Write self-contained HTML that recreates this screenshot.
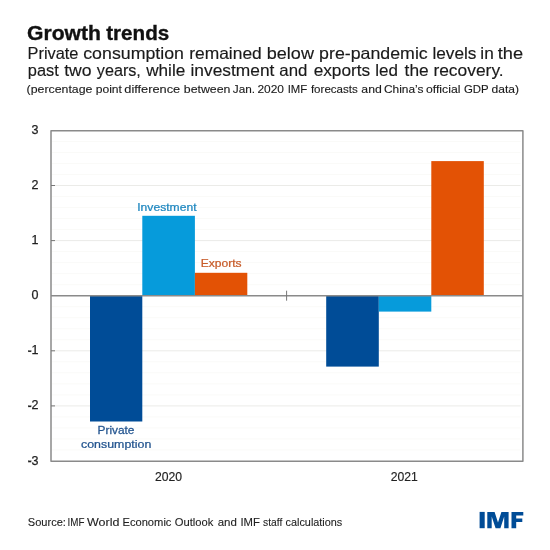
<!DOCTYPE html>
<html><head><meta charset="utf-8">
<style>
html,body{margin:0;padding:0;background:#fff;width:550px;height:550px;overflow:hidden}
svg{display:block;will-change:transform}
text{font-family:"Liberation Sans",sans-serif}
</style></head>
<body>
<svg width="550" height="550" viewBox="0 0 550 550">
<rect x="0" y="0" width="550" height="550" fill="#fff"/>
<g font-weight="bold" fill="#111" stroke="#111" stroke-width="0.35"><text transform="translate(27.04 39.6) scale(1.0263 1)" font-size="20.6">Growth</text><text transform="translate(106.20 39.6) scale(1.0029 1)" font-size="20.6">trends</text></g>
<g fill="#1a1a1a" stroke="#1a1a1a" stroke-width="0.15">
<text transform="translate(27.52 58.6) scale(1.0042 1)" font-size="16.3">Private</text><text transform="translate(83.24 58.6) scale(1.0902 1)" font-size="16.3">consumption</text><text transform="translate(189.21 58.6) scale(1.0679 1)" font-size="16.3">remained</text><text transform="translate(266.77 58.6) scale(1.1085 1)" font-size="16.3">below</text><text transform="translate(319.09 58.6) scale(1.0906 1)" font-size="16.3">pre-pandemic</text><text transform="translate(432.42 58.6) scale(1.0562 1)" font-size="16.3">levels</text><text transform="translate(480.32 58.6) scale(1.0602 1)" font-size="16.3">in</text><text transform="translate(497.70 58.6) scale(1.1183 1)" font-size="16.3">the</text>
<text transform="translate(27.78 76.1) scale(1.0052 1)" font-size="16.3">past</text><text transform="translate(64.20 76.1) scale(1.0808 1)" font-size="16.3">two</text><text transform="translate(96.80 76.1) scale(0.9938 1)" font-size="16.3">years,</text><text transform="translate(146.17 76.1) scale(1.0534 1)" font-size="16.3">while</text><text transform="translate(190.52 76.1) scale(1.0648 1)" font-size="16.3">investment</text><text transform="translate(279.37 76.1) scale(1.0322 1)" font-size="16.3">and</text><text transform="translate(313.66 76.1) scale(1.0585 1)" font-size="16.3">exports</text><text transform="translate(375.24 76.1) scale(1.0445 1)" font-size="16.3">led</text><text transform="translate(404.60 76.1) scale(1.0637 1)" font-size="16.3">the</text><text transform="translate(433.41 76.1) scale(1.0674 1)" font-size="16.3">recovery.</text>
<g stroke-width="0.12"><text transform="translate(26.62 92.7) scale(1.0734 1)" font-size="11.5">(percentage</text><text transform="translate(95.64 92.7) scale(1.0553 1)" font-size="11.5">point</text><text transform="translate(124.30 92.7) scale(1.1118 1)" font-size="11.5">difference</text><text transform="translate(183.83 92.7) scale(1.0733 1)" font-size="11.5">between</text><text transform="translate(232.82 92.7) scale(1.0235 1)" font-size="11.5">Jan.</text><text transform="translate(257.44 92.7) scale(1.0381 1)" font-size="11.5">2020</text><text transform="translate(287.71 92.7) scale(0.9879 1)" font-size="11.5">IMF</text><text transform="translate(310.90 92.7) scale(1.0065 1)" font-size="11.5">forecasts</text><text transform="translate(361.32 92.7) scale(1.0670 1)" font-size="11.5">and</text><text transform="translate(383.94 92.7) scale(1.0364 1)" font-size="11.5">China’s</text><text transform="translate(426.02 92.7) scale(1.0617 1)" font-size="11.5">official</text><text transform="translate(463.97 92.7) scale(0.9917 1)" font-size="11.5">GDP</text><text transform="translate(491.62 92.7) scale(1.0492 1)" font-size="11.5">data)</text></g>
</g>
<g stroke="#fafaf8" stroke-width="1" fill="none"><line x1="52.0" y1="141.42" x2="520.6" y2="141.42"/><line x1="52.0" y1="152.44" x2="520.6" y2="152.44"/><line x1="52.0" y1="163.46" x2="520.6" y2="163.46"/><line x1="52.0" y1="174.48" x2="520.6" y2="174.48"/><line x1="52.0" y1="196.52" x2="520.6" y2="196.52"/><line x1="52.0" y1="207.54" x2="520.6" y2="207.54"/><line x1="52.0" y1="218.56" x2="520.6" y2="218.56"/><line x1="52.0" y1="229.58" x2="520.6" y2="229.58"/><line x1="52.0" y1="251.62" x2="520.6" y2="251.62"/><line x1="52.0" y1="262.64" x2="520.6" y2="262.64"/><line x1="52.0" y1="273.66" x2="520.6" y2="273.66"/><line x1="52.0" y1="284.68" x2="520.6" y2="284.68"/><line x1="52.0" y1="306.72" x2="520.6" y2="306.72"/><line x1="52.0" y1="317.74" x2="520.6" y2="317.74"/><line x1="52.0" y1="328.76" x2="520.6" y2="328.76"/><line x1="52.0" y1="339.78" x2="520.6" y2="339.78"/><line x1="52.0" y1="361.82" x2="520.6" y2="361.82"/><line x1="52.0" y1="372.84" x2="520.6" y2="372.84"/><line x1="52.0" y1="383.86" x2="520.6" y2="383.86"/><line x1="52.0" y1="394.88" x2="520.6" y2="394.88"/><line x1="52.0" y1="416.92" x2="520.6" y2="416.92"/><line x1="52.0" y1="427.94" x2="520.6" y2="427.94"/><line x1="52.0" y1="438.96" x2="520.6" y2="438.96"/><line x1="52.0" y1="449.98" x2="520.6" y2="449.98"/></g>
<g stroke="#ebebe8" stroke-width="1" fill="none"><line x1="52.0" y1="185.50" x2="520.6" y2="185.50"/><line x1="52.0" y1="240.60" x2="520.6" y2="240.60"/><line x1="52.0" y1="350.80" x2="520.6" y2="350.80"/><line x1="52.0" y1="405.90" x2="520.6" y2="405.90"/></g>

<rect x="90.0" y="295.7" width="52.30" height="125.80" fill="#004c97"/>
<rect x="142.3" y="215.8" width="52.60" height="79.90" fill="#069bdb"/>
<rect x="194.9" y="272.8" width="52.40" height="22.90" fill="#e35205"/>
<rect x="326.2" y="295.7" width="52.60" height="70.90" fill="#004c97"/>
<rect x="378.8" y="295.7" width="52.50" height="15.90" fill="#069bdb"/>
<rect x="431.3" y="161.1" width="52.50" height="134.60" fill="#e35205"/>

<line x1="51.0" y1="295.70" x2="522.9" y2="295.70" stroke="#8a8a8a" stroke-width="1.5"/>
<line x1="286.6" y1="290.70" x2="286.6" y2="300.70" stroke="#777" stroke-width="1"/>
<rect x="51.0" y="130.73" width="471.90" height="330.47" fill="none" stroke="#8a8a8a" stroke-width="1.5" stroke-linejoin="round"/>
<g font-size="12.5" fill="#222" stroke="#222" stroke-width="0.25" text-anchor="end">
<text x="38.4" y="133.90">3</text><text x="38.4" y="189.00">2</text><text x="38.4" y="244.10">1</text><text x="38.4" y="299.20">0</text><text x="38.4" y="354.30">1</text><rect x="28.2" y="350.60" width="2.9" height="1.3"/><text x="38.4" y="409.40">2</text><rect x="28.2" y="405.70" width="2.9" height="1.3"/><text x="38.4" y="464.50">3</text><rect x="28.2" y="460.80" width="2.9" height="1.3"/>
</g>
<g stroke="#777" stroke-width="1"><line x1="51" y1="185.50" x2="55" y2="185.50"/><line x1="51" y1="240.60" x2="55" y2="240.60"/><line x1="51" y1="350.80" x2="55" y2="350.80"/><line x1="51" y1="405.90" x2="55" y2="405.90"/></g>
<g font-size="12.2" fill="#222" stroke="#222" stroke-width="0.15" text-anchor="middle">
<text x="168.6" y="480.9">2020</text>
<text x="404.2" y="480.9">2021</text>
</g>
<g stroke-width="0.25">
<g fill="#2088c0" stroke="#2088c0"><text transform="translate(137.25 211.1) scale(1.0453 1)" font-size="11.6">Investment</text></g>
<g fill="#c85c2a" stroke="#c85c2a"><text transform="translate(200.76 266.8) scale(1.0405 1)" font-size="11.6">Exports</text></g>
<g fill="#22548f" stroke="#22548f"><text transform="translate(97.57 433.8) scale(1.0223 1)" font-size="11.6">Private</text><text transform="translate(81.01 448.1) scale(1.0686 1)" font-size="11.6">consumption</text></g>
</g>
<g fill="#222" stroke="#222" stroke-width="0.1"><text transform="translate(27.85 525.5) scale(0.9625 1)" font-size="11.5">Source:</text><text transform="translate(67.56 525.5) scale(0.8548 1)" font-size="11.5">IMF</text><text transform="translate(86.98 525.5) scale(1.0879 1)" font-size="11.5">World</text><text transform="translate(122.43 525.5) scale(0.9714 1)" font-size="11.5">Economic</text><text transform="translate(174.77 525.5) scale(0.9752 1)" font-size="11.5">Outlook</text><text transform="translate(217.64 525.5) scale(1.0010 1)" font-size="11.5">and</text><text transform="translate(240.42 525.5) scale(0.9825 1)" font-size="11.5">IMF</text><text transform="translate(263.04 525.5) scale(0.8932 1)" font-size="11.5">staff</text><text transform="translate(285.56 525.5) scale(0.9449 1)" font-size="11.5">calculations</text></g>
<g fill="#004c97"><rect x="479.6" y="511.9" width="5.1" height="16.3"/><path d="M487.3 528.2V511.9H494.6L498 522.6L501.4 511.9H508.6V528.2H504.2V516.6L500.4 528.2H495.6L491.7 516.6V528.2Z"/><path d="M511.5 528.2V511.9H523.3V515.5H516.2V518.5H522.3V521.9H516.2V528.2Z"/></g>
</svg>
</body></html>
